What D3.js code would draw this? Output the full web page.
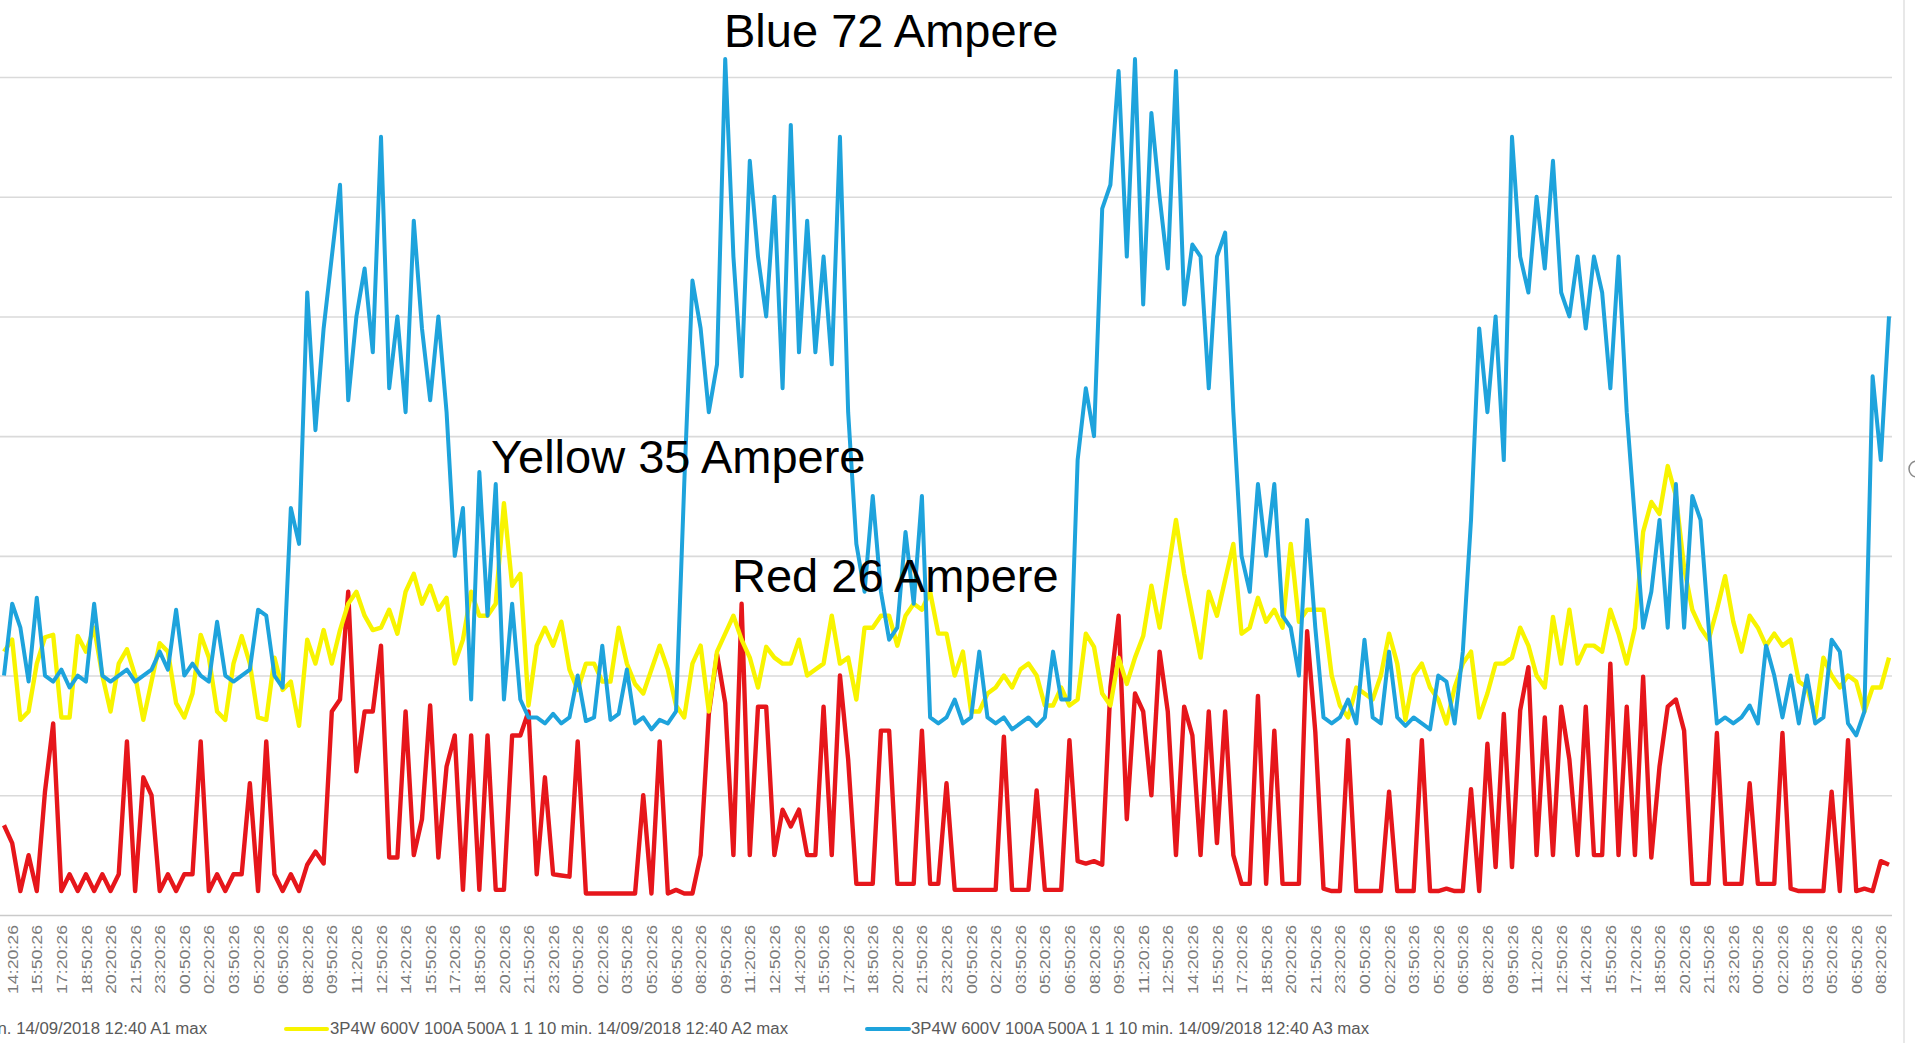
<!DOCTYPE html>
<html>
<head>
<meta charset="utf-8">
<script src="https://cdn.jsdelivr.net/npm/d3@7"></script>
<style>
  html, body { margin: 0; padding: 0; background: #fff; overflow: hidden; }
  svg { display: block; }
</style>
</head>
<body>
<div class="chart"></div>
<script>
// category labels, one every 9 samples (every 3rd point here)
const tickLabels = [
  "14:20:26","15:50:26","17:20:26","18:50:26","20:20:26","21:50:26","23:20:26","00:50:26",
  "02:20:26","03:50:26","05:20:26","06:50:26","08:20:26","09:50:26","11:20:26","12:50:26",
  "14:20:26","15:50:26","17:20:26","18:50:26","20:20:26","21:50:26","23:20:26","00:50:26",
  "02:20:26","03:50:26","05:20:26","06:50:26","08:20:26","09:50:26","11:20:26","12:50:26",
  "14:20:26","15:50:26","17:20:26","18:50:26","20:20:26","21:50:26","23:20:26","00:50:26",
  "02:20:26","03:50:26","05:20:26","06:50:26","08:20:26","09:50:26","11:20:26","12:50:26",
  "14:20:26","15:50:26","17:20:26","18:50:26","20:20:26","21:50:26","23:20:26","00:50:26",
  "02:20:26","03:50:26","05:20:26","06:50:26","08:20:26","09:50:26","11:20:26","12:50:26",
  "14:20:26","15:50:26","17:20:26","18:50:26","20:20:26","21:50:26","23:20:26","00:50:26",
  "02:20:26","03:50:26","05:20:26","06:50:26","08:20:26"
];

// A1 max (red), 30 min steps
const redA1 = [
  7.5, 6, 2, 5, 2, 10.3, 16, 2, 3.4, 2,
  3.4, 2, 3.4, 2, 3.4, 14.5, 2, 11.5, 10, 2,
  3.4, 2, 3.4, 3.4, 14.5, 2, 3.4, 2, 3.4, 3.4,
  11, 2, 14.5, 3.4, 2, 3.4, 2, 4.2, 5.3, 4.3,
  17, 18, 27, 12, 17, 17, 22.5, 4.8, 4.8, 17,
  5, 8, 17.5, 4.8, 12.4, 15, 2.1, 15, 2.1, 15,
  2.1, 2.1, 15, 15, 17, 3.4, 11.5, 3.4, 3.3, 3.2,
  14.5, 1.8, 1.8, 1.8, 1.8, 1.8, 1.8, 1.8, 10, 1.8,
  14.5, 1.8, 2.1, 1.8, 1.8, 5, 16.8, 21.8, 17.7, 5,
  26, 5, 17.4, 17.4, 5, 8.8, 7.4, 8.8, 5, 5,
  17.4, 5, 20, 13, 2.6, 2.6, 2.6, 15.4, 15.4, 2.6,
  2.6, 2.6, 15.4, 2.6, 2.6, 11, 2.1, 2.1, 2.1, 2.1,
  2.1, 2.1, 14.9, 2.1, 2.1, 2.1, 10.4, 2.1, 2.1, 2.1,
  14.6, 4.5, 4.3, 4.5, 4.2, 19, 25, 8, 18.5, 17,
  10, 22, 17, 5, 17.4, 15, 5, 17, 6, 17,
  5, 2.6, 2.6, 18.3, 2.6, 15.4, 2.6, 2.6, 2.6, 23.7,
  15.3, 2.2, 2, 2, 14.6, 2, 2, 2, 2, 10.3,
  2, 2, 2, 14.6, 2, 2, 2.2, 2, 2, 10.5,
  2, 14.3, 4, 16.8, 4, 17.1, 20.7, 5, 16.5, 5,
  17.4, 13, 5, 17.4, 5, 5, 21, 5, 17.4, 5,
  19.9, 4.8, 12.4, 17.4, 18, 15.4, 2.6, 2.6, 2.6, 15.2,
  2.6, 2.6, 2.6, 11, 2.6, 2.6, 2.6, 15.2, 2.2, 2,
  2, 2, 2, 10.3, 2, 14.6, 2, 2.2, 2, 4.5,
  4.2
];

// A2 max (yellow)
const yellowA2 = [
  22, 23, 16.3, 17, 21, 23.2, 23.4, 16.5, 16.5, 23.3,
  22, 24, 20, 17, 21, 22.2, 20, 16.3, 19.5, 22.7,
  22, 17.7, 16.5, 18.5, 23.4, 21.5, 17, 16.3, 21, 23.3,
  21, 16.5, 16.3, 21.5, 18.8, 19.5, 15.8, 23, 21, 23.8,
  21, 23.8, 26, 27, 25, 23.8, 24, 25.5, 23.5, 27,
  28.5, 26, 27.5, 25.5, 26.5, 21, 23, 27, 25, 25,
  26, 34.4, 27.5, 28.5, 17.5, 22.5, 24, 22.5, 24.5, 20.5,
  18.8, 21, 21, 19.5, 19.5, 24, 21, 19.3, 18.5, 20.5,
  22.5, 20.5, 17.5, 16.5, 21, 22.5, 17, 22, 23.5, 25,
  23, 21.5, 19, 22.4, 21.5, 21, 21, 23, 20, 20.5,
  21, 25, 21, 21.5, 18, 24, 24, 25, 25, 22.5,
  25, 26, 25.5, 27, 23.5, 23.5, 20, 22, 17, 17,
  18.5, 19, 20, 19, 20.5, 21, 20, 17.5, 17.5, 19,
  17.5, 18, 23.5, 22.4, 18.5, 17.5, 21.5, 19.3, 21.5, 23.3,
  27.5, 24, 28.5, 33, 28.5, 25, 21.5, 27, 25, 28,
  31, 23.5, 24, 26.5, 24.5, 25.5, 24, 31, 24.5, 25.5,
  25.5, 25.5, 20, 17.5, 16.5, 19, 18.5, 18, 20, 23.5,
  21, 16.3, 20, 21, 19, 18, 16, 19, 21, 22,
  16.5, 18.5, 21, 21, 21.5, 24, 22.5, 20, 19, 24.9,
  21, 25.5, 21, 22.5, 22.5, 22, 25.5, 23.5, 21, 24,
  32, 34.5, 33.5, 37.5, 35, 29, 25.5, 24, 23, 25.5,
  28.3, 24.5, 22, 25, 24, 22.5, 23.5, 22.5, 23, 19.5,
  19, 16.5, 21.5, 20, 19, 20, 19.5, 17, 19, 19,
  21.5
];

// A3 max (blue)
const blueA3 = [
  20, 26, 24, 19.5, 26.5, 20, 19.5, 20.5, 19, 20,
  19.5, 26, 20, 19.5, 20, 20.5, 19.5, 20, 20.5, 22,
  20.5, 25.5, 20, 21, 20, 19.5, 24.5, 20, 19.5, 20,
  20.5, 25.5, 25, 20, 19, 34, 31, 52, 40.5, 49,
  55, 61, 43, 50, 54, 47, 65, 44, 50, 42,
  58, 49, 43, 50, 42, 30, 34, 18, 37, 25,
  36, 18, 26, 18, 16.5, 16.5, 16, 16.8, 16, 16.5,
  20, 16.2, 16.5, 22.5, 16.3, 16.8, 20.5, 16, 16.5, 15.5,
  16.3, 16, 17, 36, 53, 49, 42, 46, 71.5, 55,
  45, 63, 55, 50, 60, 44, 66, 47, 58, 47,
  55, 46, 65, 42, 31, 27, 35, 27, 23, 24,
  32, 26, 35, 16.5, 16, 16.5, 18, 16, 16.5, 22,
  16.5, 16, 16.5, 15.5, 16, 16.5, 15.8, 16.5, 22, 18,
  18, 38, 44, 40, 59, 61, 70.5, 55, 71.5, 51,
  67, 60, 54, 70.5, 51, 56, 55, 44, 55, 57,
  42, 30, 27, 36, 30, 36, 25, 24, 20, 33,
  24, 16.5, 16, 16.5, 18, 16, 23, 16.5, 16, 22,
  16.5, 15.8, 16.5, 16, 15.5, 20, 19.5, 16, 22, 33,
  49, 42, 50, 38, 65, 55, 52, 60, 54, 63,
  52, 50, 55, 49, 55, 52, 44, 55, 42, 33,
  24, 27, 33, 24, 36, 24, 35, 33, 24, 16,
  16.5, 16, 16.5, 17.5, 16, 22.5, 20, 16.5, 20, 16,
  20, 16, 16.5, 23, 22, 16, 15, 17, 45, 38,
  50
];

const legendLabels = [
  "3P4W 600V 100A 500A 1 1 10 min. 14/09/2018 12:40 A1 max",
  "3P4W 600V 100A 500A 1 1 10 min. 14/09/2018 12:40 A2 max",
  "3P4W 600V 100A 500A 1 1 10 min. 14/09/2018 12:40 A3 max"
];
const notes = ["Blue 72 Ampere", "Yellow 35 Ampere", "Red 26 Ampere"];

const width = 1915, height = 1043;
const font = "'Liberation Sans', Arial, sans-serif";

let svg = d3.select(".chart")
  .append("svg")
  .attr("width", width)
  .attr("height", height);

let x = d3.scaleLinear().domain([0, blueA3.length - 1]).range([4, 1889]);
let y = d3.scaleLinear().domain([0, 70]).range([915, 77]);

// horizontal gridlines
svg.append("g")
    .call(d3.axisLeft(y).tickValues(d3.range(0, 71, 10)).tickSize(-1892).tickFormat(""))
    .call(g => g.select(".domain").remove())
    .call(g => g.selectAll(".tick line")
      .attr("stroke", d => d === 0 ? "#cacaca" : "#dadada")
      .attr("stroke-width", 1.6));

// rotated time labels
let tickIdx = tickLabels.map((d, k) => 3 * k + 1);
svg.append("g")
    .attr("transform", "translate(0,915)")
    .call(d3.axisBottom(x).tickValues(tickIdx).tickFormat(d => tickLabels[(d - 1) / 3]).tickSize(0))
    .call(g => g.select(".domain").remove())
  .selectAll("text")
    .attr("transform", "rotate(-90)")
    .attr("x", -10)
    .attr("y", 0)
    .attr("dy", "0.35em")
    .attr("text-anchor", "end")
    .attr("textLength", 69)
    .attr("lengthAdjust", "spacingAndGlyphs")
    .attr("fill", "#7a7a7a")
    .style("font", "14.5px " + font);

let line = d3.line()
  .curve(d3.curveLinear)
  .x((d, i) => x(i))
  .y(d => y(d));

// Excel draws A1 first, A3 last
const series = [
  { values: redA1, color: "#e6161b", width: 4.4 },
  { values: yellowA2, color: "#f8f400", width: 4.4 },
  { values: blueA3, color: "#1ea3dc", width: 4 }
];

svg.append("g").selectAll("path")
  .data(series)
  .join("path")
    .attr("fill", "none")
    .attr("stroke", d => d.color)
    .attr("stroke-width", d => d.width)
    .attr("stroke-linejoin", "round")
    .attr("d", d => line(d.values));

// typed annotations
const notePos = [[724, 47], [491, 473], [732, 592]];
svg.append("g").selectAll("text")
  .data(notes)
  .join("text")
    .attr("x", (d, i) => notePos[i][0])
    .attr("y", (d, i) => notePos[i][1])
    .attr("fill", "#000")
    .style("font", "47px " + font)
    .text(d => d);

// legend (left part is cropped off in the screenshot)
let legend = svg.append("g").style("font", "16px 'Liberation Sans Narrow', 'Arial Narrow', " + font);

legend.append("text")
    .attr("x", 207)
    .attr("y", 1034)
    .attr("text-anchor", "end")
    .attr("textLength", 458)
    .attr("lengthAdjust", "spacingAndGlyphs")
    .attr("fill", "#595959")
    .text(legendLabels[0]);

[[286, 327, 330, legendLabels[1], series[1].color], [867, 909, 911, legendLabels[2], series[2].color]]
  .forEach(([x1, x2, tx, label, color]) => {
    legend.append("line")
      .attr("x1", x1).attr("x2", x2)
      .attr("y1", 1029).attr("y2", 1029)
      .attr("stroke", color)
      .attr("stroke-width", 4)
      .attr("stroke-linecap", "round");
    legend.append("text")
      .attr("x", tx)
      .attr("y", 1034)
      .attr("textLength", 458)
      .attr("lengthAdjust", "spacingAndGlyphs")
      .attr("fill", "#595959")
      .text(label);
  });

// chart frame edge and resize handle at the right
svg.append("line")
    .attr("x1", 1904).attr("x2", 1904)
    .attr("y1", 0).attr("y2", height)
    .attr("stroke", "#e0e0e0")
    .attr("stroke-width", 1.5);
svg.append("circle")
    .attr("cx", 1917).attr("cy", 469).attr("r", 8)
    .attr("fill", "#fff")
    .attr("stroke", "#8a8a8a")
    .attr("stroke-width", 1.5);
</script>
</body>
</html>
